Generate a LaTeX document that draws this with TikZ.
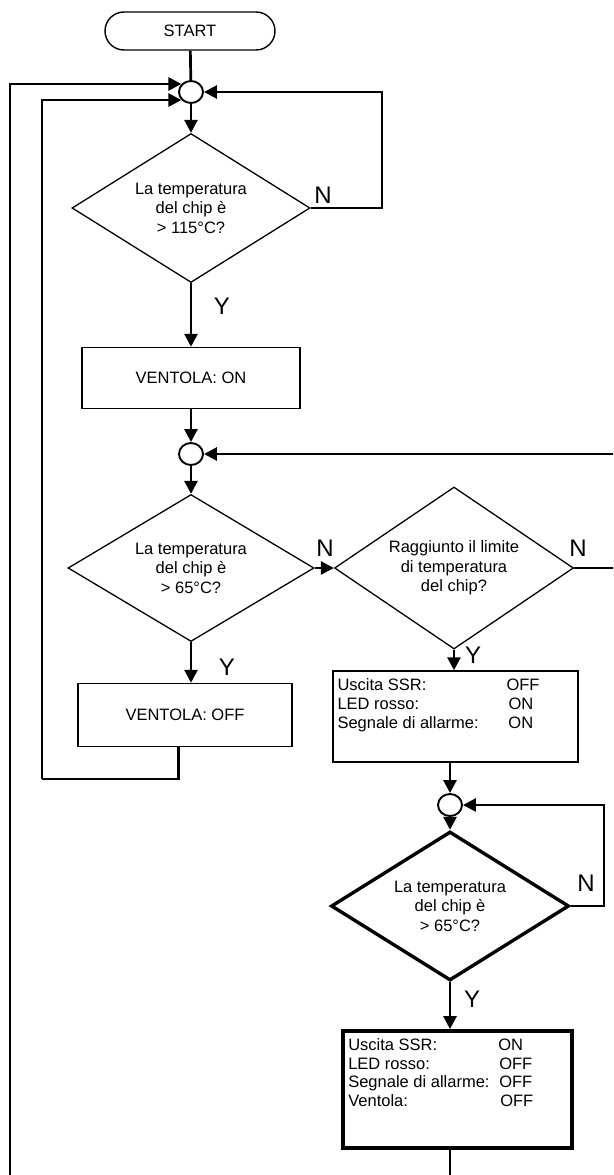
\documentclass[tikz,border=0pt]{standalone}
\usepackage{fontspec}
\setmainfont{Liberation Sans}
\usetikzlibrary{arrows.meta,shapes.geometric,calc}
\begin{document}
\begin{tikzpicture}[x=1pt,y=-1pt,
  line/.style={line width=2.7pt},
  arr/.style={line width=2.7pt,-{Triangle[length=13pt,width=13pt]}},
  body/.style={font=\fontsize{16.5}{19.5}\selectfont},
  dec/.style={diamond,draw,line width=1.3pt,aspect=1.6,inner sep=0pt,align=center,body},
  proc/.style={rectangle,draw,line width=1.4pt,inner sep=0pt,body},
  junc/.style={ellipse,draw,line width=1.9pt,minimum width=24pt,minimum height=22pt,inner sep=0pt,fill=white},
  lab/.style={font=\fontsize{24}{24}\selectfont,inner sep=0pt},
  boxtxt/.style={anchor=north west,inner sep=0pt,align=left,font=\fontsize{16.5}{18.8}\selectfont}
]
\useasboundingbox (0,0) rectangle (613,1175);
\clip (0,0) rectangle (613,1175);

% nodes
\node[draw,rounded corners=19pt,line width=1.4pt,minimum width=170pt,minimum height=38pt,body] (start) at (190,31) {START};
\node[junc] (c1) at (191,92) {};
\node[dec,minimum width=238pt,minimum height=149pt] (d1) at (191,208) {La temperatura\\del chip è\\> 115°C?};
\node[proc,minimum width=218pt,minimum height=61pt] (b1) at (191,378) {VENTOLA: ON};
\node[junc] (c2) at (191,454) {};
\node[dec,minimum width=246pt,minimum height=147pt] (d2) at (191,568) {La temperatura\\del chip è\\> 65°C?};
\node[dec,minimum width=239pt,minimum height=162pt] (d3) at (454,568) {Raggiunto il limite\\di temperatura\\del chip?};
\node[proc,minimum width=214pt,minimum height=63pt] (b2) at (185,715) {VENTOLA: OFF};
\node[proc,minimum width=245pt,minimum height=91pt] (b3) at (455.5,716.5) {};
\node[boxtxt] (t3) at ($(b3.north west)+(5,8)$) {\makebox[169pt][l]{Uscita SSR:}OFF\\\makebox[171pt][l]{LED rosso:}ON\\\makebox[171pt][l]{Segnale di allarme:}ON};
\node[junc] (c3) at (450,805) {};
\node[dec,line width=3.4pt,minimum width=238pt,minimum height=149pt] (d4) at (450,906) {La temperatura\\del chip è\\> 65°C?};
\node[proc,line width=3.8pt,minimum width=229pt,minimum height=117pt] (b4) at (457.5,1089.5) {};
\node[boxtxt] (t4) at ($(b4.north west)+(7,9)$) {\makebox[150pt][l]{Uscita SSR:}ON\\\makebox[151pt][l]{LED rosso:}OFF\\\makebox[151pt][l]{Segnale di allarme:}OFF\\\makebox[152pt][l]{Ventola:}OFF};

% labels
\node[lab] (n1) at (323,195) {N};
\node[lab] (y1) at (222,306) {Y};
\node[lab] (n2) at (325,548) {N};
\node[lab] (n3) at (578,548) {N};
\node[lab] (y2) at (227,667) {Y};
\node[lab] (y3) at (473,655) {Y};
\node[lab] (n4) at (586,883) {N};
\node[lab] (y4) at (472,999) {Y};

% free ends
\coordinate (r1) at (382,92);
\coordinate (r2) at (620,454);
\coordinate (r3) at (620,568);
\coordinate (r4) at (604,805);
\coordinate (l1) at (10,1185);
\coordinate (l2) at (42,779);
\coordinate (bot) at (450,1185);

% connectors
\draw[line] (start) -- (c1);
\draw[arr] (c1) -- (d1);
\draw[arr] (d1.east) -| (r1) -- (c1);
\draw[arr] (d1) -- (b1);
\draw[arr] (b1) -- (c2);
\draw[arr] (r2) -- (c2);
\draw[arr] (c2) -- (d2);
\draw[arr] (d2.east) -- (d3.west);
\draw[line] (d3.east) -- (r3);
\draw[arr] (d2.south) -- (d2.south |- b2.north);
\draw[line] ([xshift=-6.5pt]b2.south) |- (l2);
\draw[arr] (l2) |- (c1.220);
\draw[arr] (l1) |- (c1.140);
\draw[arr] (d3.south) -- (d3.south |- b3.north);
\draw[arr] (b3.south -| c3) -- (c3);
\draw[arr] (c3) -- (d4);
\draw[arr] (d4.east) -| (r4) -- (c3);
\draw[arr] (d4.south) -- (d4.south |- b4.north);
\draw[line] (b4.south -| d4.south) -- (bot);
\end{tikzpicture}
\end{document}
